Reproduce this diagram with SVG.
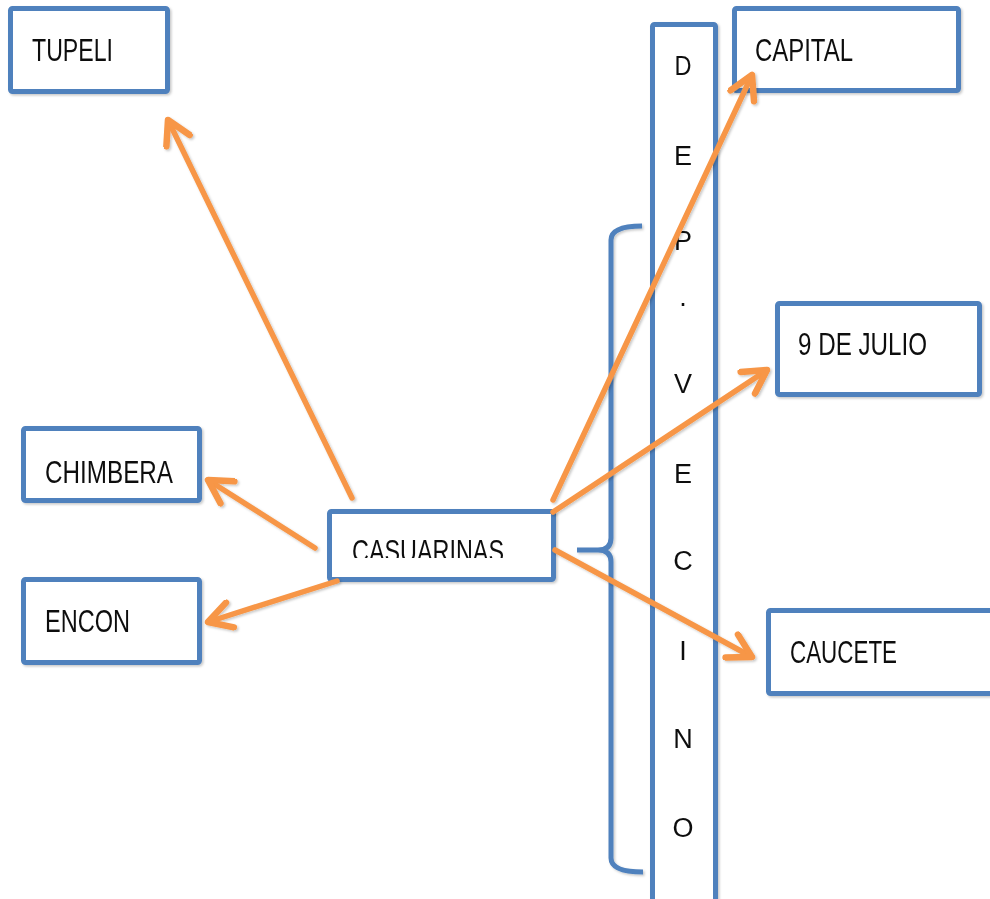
<svg xmlns="http://www.w3.org/2000/svg" width="990" height="899" viewBox="0 0 990 899">
  <style>
    .box { fill: #ffffff; stroke: #4F81BD; stroke-width: 5; }
    .lbl { font-family: "Liberation Sans", Arial, sans-serif; font-size: 31px; fill: #111111; }
    .vl { font-family: "Liberation Sans", Arial, sans-serif; font-size: 27px; fill: #111111; text-anchor: middle; }
    .conn { stroke: #F79646; stroke-width: 5.5; fill: none; stroke-linecap: round; }
    .brace { stroke: #4F81BD; stroke-width: 5; fill: none; stroke-linecap: butt; }
  </style>
  <defs>
    <filter id="sh" x="-10%" y="-10%" width="130%" height="130%">
      <feDropShadow dx="1.5" dy="1.5" stdDeviation="1.2" flood-color="#000" flood-opacity="0.22"/>
    </filter>
    <marker id="ah" markerUnits="userSpaceOnUse" viewBox="-28 -16 32 32" refX="0" refY="0" markerWidth="32" markerHeight="32" orient="auto">
      <path d="M-23,-13 L0,0 L-23,13" fill="none" stroke="#F79646" stroke-width="6.5" stroke-linejoin="round" stroke-linecap="round"/>
    </marker>
    <clipPath id="casclip">
      <rect x="330" y="512" width="222" height="46"/>
    </clipPath>
  </defs>
  <rect width="990" height="899" fill="#ffffff"/>

  <g id="node-depvecino" filter="url(#sh)">
    <rect class="box" x="652.5" y="24.5" width="63" height="890" rx="2"/>
    <text class="vl" x="683" y="75" textLength="17" lengthAdjust="spacingAndGlyphs">D</text>
    <text class="vl" x="683" y="165">E</text>
    <text class="vl" x="683" y="250">P</text>
    <text class="vl" x="683" y="306">.</text>
    <text class="vl" x="683" y="393">V</text>
    <text class="vl" x="683" y="483">E</text>
    <text class="vl" x="683" y="570">C</text>
    <text class="vl" x="683" y="660">I</text>
    <text class="vl" x="683" y="748">N</text>
    <text class="vl" x="683" y="837">O</text>
  </g>

  <g id="brace" filter="url(#sh)">
    <path class="brace" d="M642,226 Q611,226 611,240 L611,538 Q611,550 598,550 L577,550 M598,550 Q611,550 611,562 L611,858 Q611,872 643,872"/>
  </g>

  <g id="node-tupeli" filter="url(#sh)">
    <rect class="box" x="10.5" y="8.5" width="157" height="83" rx="2"/>
    <text class="lbl" x="32" y="61" textLength="81" lengthAdjust="spacingAndGlyphs">TUPELI</text>
  </g>
  <g id="node-capital" filter="url(#sh)">
    <rect class="box" x="734.5" y="8.5" width="224" height="82" rx="2"/>
    <text class="lbl" x="755" y="61" textLength="98" lengthAdjust="spacingAndGlyphs">CAPITAL</text>
  </g>
  <g id="node-9dejulio" filter="url(#sh)">
    <rect class="box" x="777.5" y="303.5" width="202" height="91" rx="2"/>
    <text class="lbl" x="798" y="355" textLength="129" lengthAdjust="spacingAndGlyphs">9 DE JULIO</text>
  </g>
  <g id="node-caucete" filter="url(#sh)">
    <rect class="box" x="768.5" y="610.5" width="240" height="83" rx="2"/>
    <text class="lbl" x="790" y="663" textLength="107" lengthAdjust="spacingAndGlyphs">CAUCETE</text>
  </g>
  <g id="node-chimbera" filter="url(#sh)">
    <rect class="box" x="23.5" y="428.5" width="176" height="72" rx="2"/>
    <text class="lbl" x="45" y="483" textLength="128" lengthAdjust="spacingAndGlyphs">CHIMBERA</text>
  </g>
  <g id="node-encon" filter="url(#sh)">
    <rect class="box" x="23.5" y="579.5" width="176" height="83" rx="2"/>
    <text class="lbl" x="45" y="632" textLength="85" lengthAdjust="spacingAndGlyphs">ENCON</text>
  </g>
  <g id="node-casuarinas" filter="url(#sh)">
    <rect class="box" x="329.5" y="511.5" width="224" height="68" rx="2"/>
    <text class="lbl" x="352" y="562" textLength="152" lengthAdjust="spacingAndGlyphs" clip-path="url(#casclip)">CASUARINAS</text>
  </g>

  <g id="connectors" filter="url(#sh)">
    <line class="conn" x1="352" y1="498" x2="168" y2="120" marker-end="url(#ah)"/>
    <line class="conn" x1="315" y1="548" x2="208" y2="480" marker-end="url(#ah)"/>
    <line class="conn" x1="337" y1="581" x2="208" y2="622" marker-end="url(#ah)"/>
    <line class="conn" x1="553" y1="500" x2="752" y2="75" marker-end="url(#ah)"/>
    <line class="conn" x1="553" y1="512" x2="767" y2="370" marker-end="url(#ah)"/>
    <line class="conn" x1="555" y1="550" x2="752" y2="657" marker-end="url(#ah)"/>
  </g>
</svg>
